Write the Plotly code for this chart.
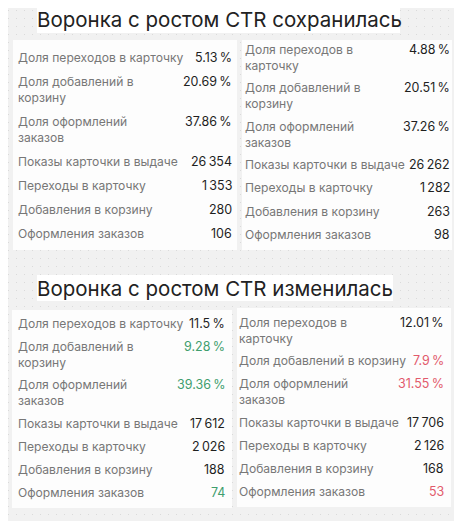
import plotly.graph_objects as go

W, H = 462, 521
OFF = 8  # default page margin of the html body

titles = ["Воронка с ростом CTR сохранилась", "Воронка с ростом CTR изменилась"]

labels = ["Доля переходов в карточку", "Доля добавлений в корзину",
          "Доля оформлений заказов", "Показы карточки в выдаче",
          "Переходы в карточку", "Добавления в корзину", "Оформления заказов"]

# rates (%) and counts for each of the four cards
rates_1 = [5.13, 20.69, 37.86]
counts_1 = [26354, 1353, 280, 106]
rates_2 = [4.88, 20.51, 37.26]
counts_2 = [26262, 1282, 263, 98]
rates_3 = [11.5, 9.28, 39.36]
counts_3 = [17612, 2026, 188, 74]
rates_4 = [12.01, 7.9, 31.55]
counts_4 = [17706, 2126, 168, 53]

# which values are highlighted (good / bad)
good_3 = [1, 2, 6]
bad_4 = [1, 2, 6]

GREEN = "#3f9e6e"
RED = "#e25a6c"
LABEL = "#777777"
VALUE = "#1f1f1f"
FONT = "Inter"

# card layout: box, label x, value right x, first row y, single/double row step, wrapped rows
cards = [
    dict(rates=rates_1, counts=counts_1, box=(13, 40, 237, 250), lx=19, vx=231,
         y0=57, step=24, step2=40, wrap=[1, 2], hl=[], col=None),
    dict(rates=rates_2, counts=counts_2, box=(242, 40, 452, 250), lx=246, vx=449,
         y0=49, step=23.3, step2=38.5, wrap=[0, 1, 2], hl=[], col=None),
    dict(rates=rates_3, counts=counts_3, box=(12, 310, 232, 508), lx=19, vx=224,
         y0=323, step=23.2, step2=38.5, wrap=[1, 2], hl=good_3, col=GREEN),
    dict(rates=rates_4, counts=counts_4, box=(237, 308, 451, 507), lx=240, vx=443,
         y0=322, step=23.2, step2=38.5, wrap=[0, 2], hl=bad_4, col=RED),
]

title_boxes = [(37, 5, 400, 33, 19), (37, 275, 393, 301, 288)]


def fmt_rate(v):
    return f"{v:g}\u202f%"


def fmt_count(v):
    return f"{v:,}".replace(",", "\u202f")


def wrap(text):
    head, last = text.rsplit(" ", 1)
    return head + "<br>" + last


fig = go.Figure()
fig.add_trace(go.Scatter(x=[None], y=[None], showlegend=False, hoverinfo="skip"))

shapes = []
annotations = []

for (x0, y0, x1, y1, ty), t in zip(title_boxes, titles):
    shapes.append(dict(type="rect", x0=x0, y0=y0, x1=x1, y1=y1, layer="between",
                       fillcolor="white", line=dict(width=0)))
    annotations.append(dict(x=x0 - 2, y=ty, text=t, showarrow=False, xanchor="left",
                            yanchor="middle", font=dict(family=FONT, size=20.5, color="#222222")))

for c in cards:
    x0, y0, x1, y1 = c["box"]
    shapes.append(dict(type="rect", x0=x0, y0=y0, x1=x1, y1=y1, layer="between",
                       fillcolor="#fdfdfd", line=dict(width=0)))
    values = [fmt_rate(v) for v in c["rates"]] + [fmt_count(v) for v in c["counts"]]
    y = c["y0"]
    for i, (lab, val) in enumerate(zip(labels, values)):
        wrapped = i in c["wrap"]
        annotations.append(dict(x=c["lx"] - 3, y=y - 9.5, text=wrap(lab) if wrapped else lab,
                                showarrow=False, xanchor="left", yanchor="top", align="left",
                                font=dict(family=FONT, size=12.1, color=LABEL)))
        annotations.append(dict(x=c["vx"] + 3, y=y, text=val, showarrow=False,
                                xanchor="right", yanchor="middle",
                                font=dict(family=FONT, size=12.5,
                                          color=c["col"] if i in c["hl"] else VALUE)))
        y += c["step2"] if wrapped else c["step"]

fig.update_layout(
    width=W, height=H,
    margin=dict(l=0, r=0, t=0, b=0),
    paper_bgcolor="#f1f1f1",
    plot_bgcolor="#f1f1f1",
    shapes=shapes,
    annotations=annotations,
    xaxis=dict(range=[OFF, W + OFF], visible=True, showgrid=False, zeroline=False,
               showticklabels=False, fixedrange=True),
    yaxis=dict(range=[H + OFF, OFF], showgrid=True, gridcolor="#dadada", griddash="1px,7px",
               gridwidth=1, dtick=8, tick0=2, zeroline=False, showticklabels=False,
               fixedrange=True),
    showlegend=False,
)

fig.write_html("out.html")
